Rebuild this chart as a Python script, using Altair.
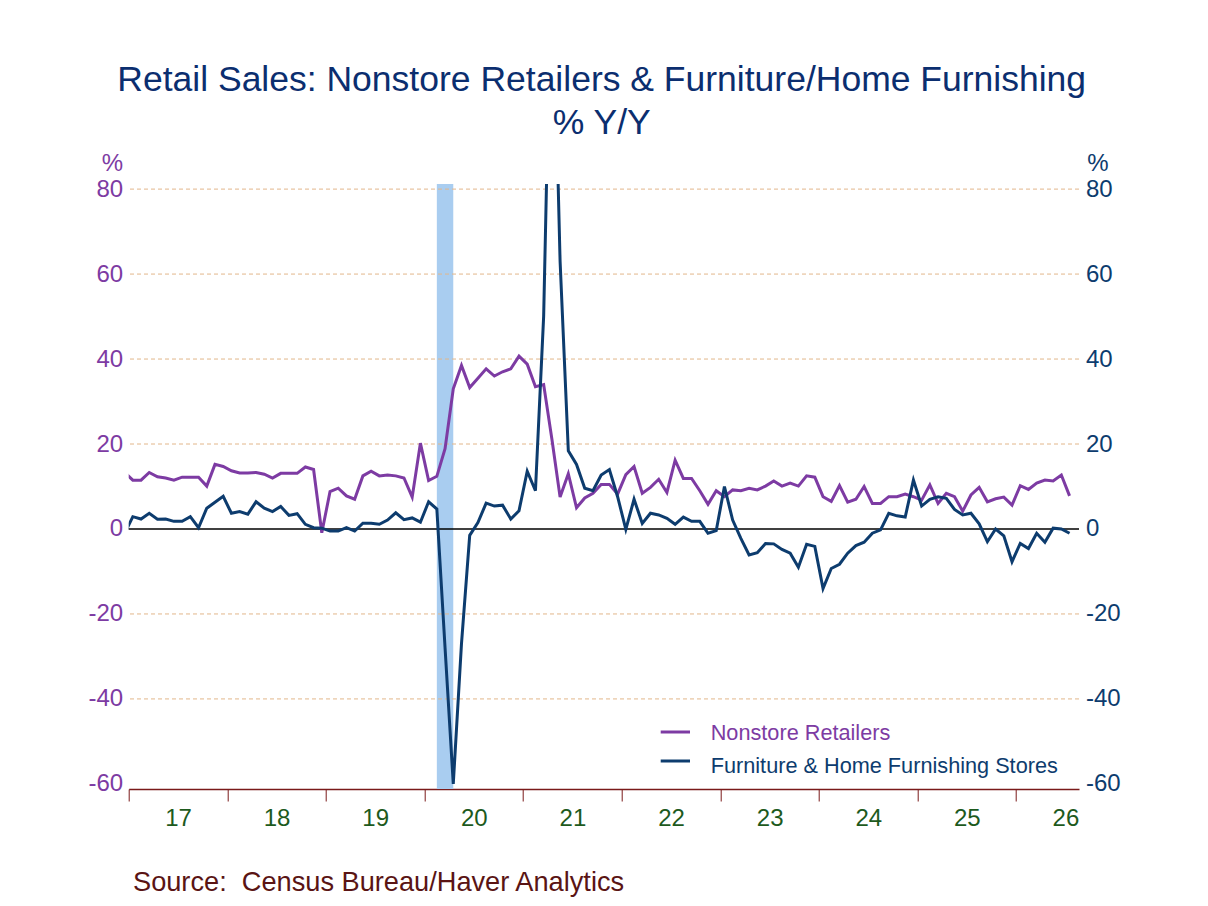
import altair as alt
import pandas as pd

# ---- data (monthly % Y/Y, Dec 2016 .. Jul 2026) ----
nonstore = [13.3,
    11.5, 11.5, 13.3, 12.3, 12.0, 11.5, 12.2, 12.2, 12.2, 10.1, 15.2, 14.7,
    13.7, 13.2, 13.2, 13.3, 12.9, 12.0, 13.1, 13.1, 13.1, 14.6, 14.0, -0.9,
    8.8, 9.6, 7.8, 7.0, 12.5, 13.6, 12.5, 12.7, 12.5, 12.0, 7.5, 20.2,
    11.4, 12.4, 18.9, 33.0, 38.5, 33.3, 35.5, 37.7, 36.0, 37.0, 37.7, 40.7,
    38.8, 33.5, 34.0, 21.2, 7.5, 13.0, 5.0, 7.3, 8.4, 10.5, 10.5, 8.2,
    12.8, 14.7, 8.4, 9.8, 11.7, 8.6, 16.2, 11.9, 11.9, 9.0, 5.8, 9.0,
    7.6, 9.2, 9.0, 9.6, 9.2, 10.1, 11.3, 10.1, 10.8, 10.1, 12.5, 12.2,
    7.6, 6.5, 10.2, 6.3, 7.0, 10.0, 6.0, 6.0, 7.6, 7.6, 8.2, 7.6,
    6.8, 10.4, 6.0, 8.4, 7.6, 4.2, 8.0, 9.8, 6.4, 7.1, 7.5, 5.6,
    10.2, 9.3, 10.8, 11.5, 11.3, 12.7, 7.8]
furniture = [-1.1,
    2.9, 2.35, 3.7, 2.3, 2.35, 1.8, 1.8, 2.9, 0.3, 4.9, 6.3, 7.7,
    3.7, 4.1, 3.5, 6.4, 4.9, 4.1, 5.3, 3.2, 3.6, 1.1, 0.3, 0.2,
    -0.5, -0.5, 0.3, -0.5, 1.35, 1.35, 1.1, 2.1, 3.8, 2.2, 2.6, 1.6,
    6.4, 4.7, -28.0, -60.0, -27.0, -1.5, 1.5, 6.1, 5.4, 5.6, 2.35, 4.3,
    13.6, 9.0, 50.1, 140.0, 63.0, 18.4, 15.2, 9.6, 9.0, 12.7, 14.0, 7.6,
    -0.1, 7.0, 1.3, 3.7, 3.3, 2.5, 1.1, 2.8, 1.8, 1.8, -1.0, -0.4,
    10.0, 2.1, -2.2, -6.1, -5.6, -3.4, -3.5, -4.8, -5.7, -9.0, -3.6, -4.1,
    -14.0, -9.3, -8.3, -5.7, -3.9, -3.1, -1.0, -0.2, 3.7, 3.1, 2.8, 11.5,
    5.4, 7.0, 7.6, 7.2, 4.6, 3.3, 3.7, 1.2, -3.0, 0.0, -1.6, -7.7,
    -3.4, -4.6, -1.0, -3.1, 0.2, 0.0, -1.0]
# month index (0 = start of Jan 2017), points at mid-month
months = [i + 0.5 for i in range(-1, len(nonstore) - 1)]
year_ticks = [12 * k for k in range(10)]
grid_vals = [-40, -20, 20, 40, 60, 80]
y_ticks = [-60, -40, -20, 0, 20, 40, 60, 80]
recession = {"start": [37.5], "end": [39.5]}  # Feb 2020 - Apr 2020

PURPLE = "#7d3ba3"
NAVY = "#0d3c6e"
TITLE = "#0b2e6f"
GREEN = "#1d5a1d"
MAROON = "#7a1a1a"
FONT = "Liberation Sans"

W, H = 950.3, 605
X_DOMAIN = [0, 115.65]
Y_DOMAIN = [-61.2, 81.2]

df = pd.DataFrame({"t": months, "Nonstore": nonstore, "Furniture": furniture})

xs = alt.Scale(domain=X_DOMAIN, nice=False, zero=False)
ys = alt.Scale(domain=Y_DOMAIN, nice=False, zero=False)

x_axis = alt.Axis(values=year_ticks, labelExpr="'' + (17 + datum.value/12)",
                  labelOffset=49.3, labelFontSize=24, labelFont=FONT, labelColor=GREEN,
                  tickSize=12, tickColor=MAROON, tickWidth=1, domainColor=MAROON,
                  domainWidth=1.5, labelPadding=5, grid=False, title=None,
                  labelFlush=False, labelOverlap=False, labelBound=False)


def y_axis(orient, color, pad):
    return alt.Axis(orient=orient, values=y_ticks, labelExpr="'' + datum.value",
                    labelColor=color, labelFontSize=24, labelFont=FONT, ticks=False,
                    domain=False, grid=False, title=None, labelPadding=pad)


rec = alt.Chart(pd.DataFrame(recession)).mark_rect(color="#a9cdf0").encode(
    x=alt.X("start:Q", scale=xs, axis=x_axis), x2="end:Q",
    y=alt.value(0), y2=alt.value(H))

grid = alt.Chart(pd.DataFrame({"v": grid_vals})).mark_rule(
    color="#e2b68a", strokeDash=[4, 3], strokeWidth=1).encode(
    y=alt.Y("v:Q", scale=ys, axis=None))

zero = alt.Chart(pd.DataFrame({"v": [0]})).mark_rule(color="black", strokeWidth=1.4).encode(
    y=alt.Y("v:Q", scale=ys, axis=None))

l1 = alt.Chart(df).mark_line(color=PURPLE, strokeWidth=3, clip=True).encode(
    x=alt.X("t:Q", scale=xs, axis=x_axis),
    y=alt.Y("Nonstore:Q", scale=ys, axis=y_axis("left", PURPLE, 6)))

l2 = alt.Chart(df).mark_line(color=NAVY, strokeWidth=3, clip=True).encode(
    x=alt.X("t:Q", scale=xs, axis=x_axis),
    y=alt.Y("Furniture:Q", scale=ys, axis=y_axis("right", NAVY, 6.5)))


def txt(s, x, y, size, color, align="left"):
    return alt.Chart(pd.DataFrame({"s": [s]})).mark_text(
        align=align, baseline="alphabetic", fontSize=size, font=FONT, color=color).encode(
        text="s:N", x=alt.value(x), y=alt.value(y))


def dash(x1, x2, y, color):
    return alt.Chart(pd.DataFrame({"s": [0]})).mark_rule(color=color, strokeWidth=3).encode(
        x=alt.value(x1), x2=alt.value(x2), y=alt.value(y))


texts = [
    txt("Retail Sales: Nonstore Retailers & Furniture/Home Furnishing", 473, -93, 35.5, TITLE, "center"),
    txt("% Y/Y", 473, -50, 35.5, TITLE, "center"),
    txt("%", -5.7, -13, 24, PURPLE, "right"),
    txt("%", 958.5, -13, 24, NAVY, "left"),
    dash(532, 561.3, 548, PURPLE),
    dash(532, 561.3, 577, NAVY),
    txt("Nonstore Retailers", 582, 555.5, 21.7, PURPLE),
    txt("Furniture & Home Furnishing Stores", 582, 588.5, 21.7, NAVY),
    txt("Source:\u00a0 Census Bureau/Haver Analytics", 4.3, 707, 27.2, "#5a1414"),
]

chart = alt.layer(rec, grid, zero, l1, l2, *texts).resolve_scale(
    y="independent").resolve_axis(y="independent").properties(
    width=W, height=H,
    background="white",
    autosize=alt.AutoSizeParams(type="none"),
    padding={"left": 120.7, "top": 176, "right": 121, "bottom": 109},
).configure_view(stroke=None)

chart.save("out.html", embed_options={"renderer": "svg", "actions": False})
